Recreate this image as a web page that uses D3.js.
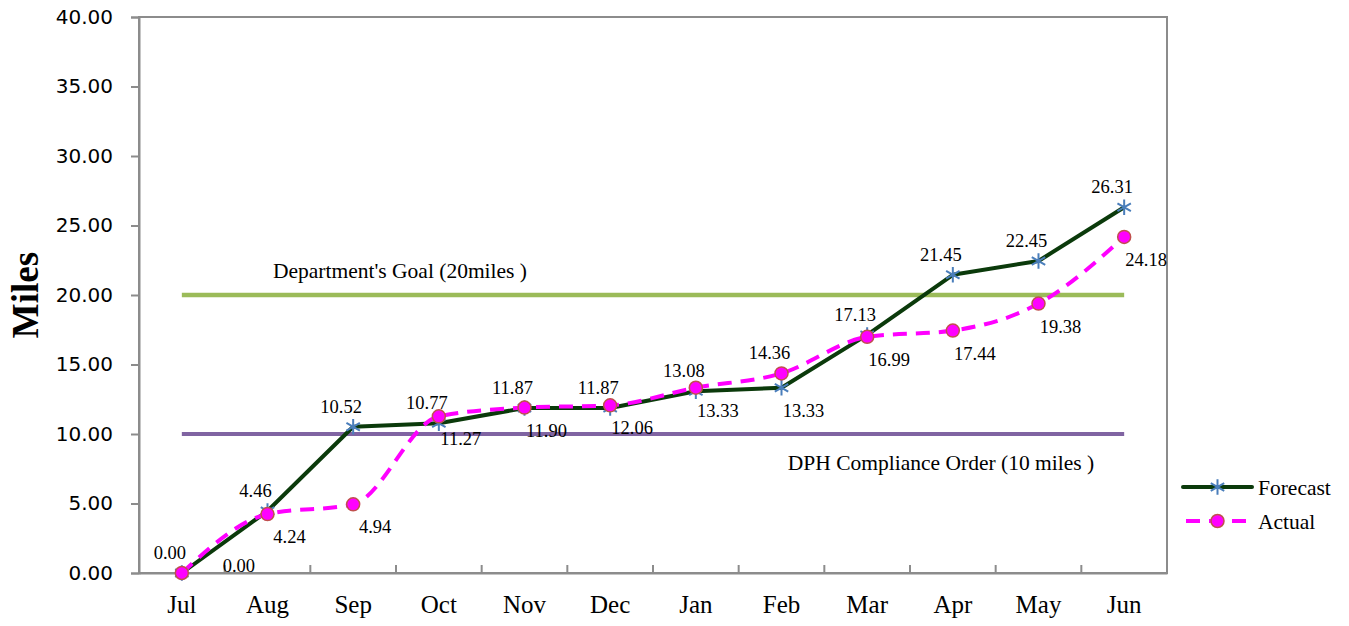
<!DOCTYPE html>
<html lang="en">
<head>
    <meta charset="UTF-8">
    <title>Miles forecast vs actual</title>
    <style>
        body { margin: 0; background: #fff; }
        svg { display: block; }
    </style>
</head>
<body>
    <script src="https://d3js.org/d3.v7.min.js"></script>
    <script>
        // Data
        const months = ["Jul", "Aug", "Sep", "Oct", "Nov", "Dec", "Jan", "Feb", "Mar", "Apr", "May", "Jun"];
        const forecast = [0.00, 4.46, 10.52, 10.77, 11.87, 11.87, 13.08, 13.33, 17.13, 21.45, 22.45, 26.31];
        const actual = [0.00, 4.24, 4.94, 11.27, 11.90, 12.06, 13.33, 14.36, 16.99, 17.44, 19.38, 24.18];
        const yTicks = [0, 5, 10, 15, 20, 25, 30, 35, 40];
        const goalValue = 20,
            goalLabel = "Department's Goal (20miles )";
        const orderValue = 10,
            orderLabel = "DPH Compliance Order (10 miles )";

        const width = 1349,
            height = 626,
            margin = {top: 17, right: 182, bottom: 53, left: 139},
            serif = "'Liberation Serif', 'Times New Roman', serif",
            sans = "'DejaVu Sans', Verdana, sans-serif",
            axisGray = "#8c8c8c",
            forecastColor = "#0b3a0b",
            starColor = "#4a7ebb",
            actualColor = "#ff00ff",
            dotStroke = "#c0504d";

        const svg = d3.select("body").append("svg")
            .attr("width", width)
            .attr("height", height);

        const x = d3.scaleBand()
            .domain(months)
            .range([margin.left, width - margin.right]);
        const y = d3.scaleLinear()
            .domain([0, 40])
            .range([height - margin.bottom, margin.top]);
        const cx = m => x(m) + x.bandwidth() / 2;

        // Frame around the plot
        svg.append("rect")
            .attr("x", margin.left)
            .attr("y", margin.top)
            .attr("width", width - margin.right - margin.left)
            .attr("height", height - margin.bottom - margin.top)
            .attr("fill", "none")
            .attr("stroke", axisGray)
            .attr("stroke-width", 2);

        // Y axis
        const yAxis = svg.append("g")
            .attr("transform", `translate(${margin.left},0)`)
            .call(d3.axisLeft(y).tickValues(yTicks).tickSize(8).tickPadding(18)
                .tickFormat(d3.format(".2f")));
        yAxis.select(".domain").attr("stroke", axisGray).attr("stroke-width", 2);
        yAxis.selectAll(".tick line").attr("stroke", axisGray).attr("stroke-width", 2);
        yAxis.selectAll("text")
            .style("font-family", sans)
            .style("font-size", "20px")
            .attr("fill", "#000");

        // X axis: ticks sit between categories and point inward
        const xAxis = svg.append("g")
            .attr("transform", `translate(0,${height - margin.bottom})`)
            .call(d3.axisBottom(x).tickSize(0).tickPadding(22));
        xAxis.select(".domain").attr("stroke", axisGray).attr("stroke-width", 2);
        xAxis.selectAll("text")
            .style("font-family", serif)
            .style("font-size", "25px")
            .attr("fill", "#000");
        xAxis.selectAll(".bound")
            .data(months.slice(1))
            .enter().append("line")
            .attr("x1", d => x(d))
            .attr("x2", d => x(d))
            .attr("y1", 0)
            .attr("y2", -8)
            .attr("stroke", axisGray)
            .attr("stroke-width", 2);

        // Axis title
        svg.append("text")
            .attr("transform", `translate(38,${(margin.top + height - margin.bottom) / 2}) rotate(-90)`)
            .attr("text-anchor", "middle")
            .style("font-family", serif)
            .style("font-size", "37px")
            .style("font-weight", "bold")
            .text("Miles");

        // Reference lines
        const first = cx(months[0]), last = cx(months[months.length - 1]);
        svg.append("line")
            .attr("x1", first).attr("x2", last)
            .attr("y1", y(goalValue)).attr("y2", y(goalValue))
            .attr("stroke", "#9bbb59").attr("stroke-width", 4.5);
        svg.append("line")
            .attr("x1", first).attr("x2", last)
            .attr("y1", y(orderValue)).attr("y2", y(orderValue))
            .attr("stroke", "#8064a2").attr("stroke-width", 4);
        svg.append("text")
            .attr("x", 400)
            .attr("y", y(goalValue) - 17)
            .attr("text-anchor", "middle")
            .style("font-family", serif)
            .style("font-size", "21.5px")
            .text(goalLabel);
        svg.append("text")
            .attr("x", 941)
            .attr("y", y(orderValue) + 36)
            .attr("text-anchor", "middle")
            .style("font-family", serif)
            .style("font-size", "21.5px")
            .text(orderLabel);

        // Series lines
        const forecastLine = d3.line()
            .x((d, i) => cx(months[i]))
            .y(d => y(d));
        const actualLine = d3.line()
            .x((d, i) => cx(months[i]))
            .y(d => y(d))
            .curve(d3.curveMonotoneX);

        svg.append("path")
            .datum(forecast)
            .attr("d", forecastLine)
            .attr("fill", "none")
            .attr("stroke", forecastColor)
            .attr("stroke-width", 4)
            .attr("stroke-linejoin", "round");

        const star = d3.symbol().type(d3.symbolAsterisk).size(170);
        function drawStar(g, px, py) {
            g.append("path")
                .attr("d", star())
                .attr("transform", `translate(${px},${py})`)
                .attr("fill", "none")
                .attr("stroke", starColor)
                .attr("stroke-width", 2);
        }
        function drawDot(g, px, py) {
            g.append("circle")
                .attr("cx", px).attr("cy", py).attr("r", 6.5)
                .attr("fill", actualColor)
                .attr("stroke", dotStroke)
                .attr("stroke-width", 1.5);
        }

        const starG = svg.append("g");
        forecast.forEach((d, i) => drawStar(starG, cx(months[i]), y(d)));

        svg.append("path")
            .datum(actual)
            .attr("d", actualLine)
            .attr("fill", "none")
            .attr("stroke", actualColor)
            .attr("stroke-width", 4)
            .attr("stroke-dasharray", "14,9");

        const dotG = svg.append("g");
        actual.forEach((d, i) => drawDot(dotG, cx(months[i]), y(d)));

        // Value labels: forecast above-left, actual below-right,
        // swapped when actual clearly sits above forecast
        const labelG = svg.append("g")
            .style("font-family", serif)
            .style("font-size", "18.5px")
            .attr("text-anchor", "middle");
        months.forEach((m, i) => {
            const swap = actual[i] - forecast[i] > 1;
            const up = {dx: -12, dy: -14}, down = {dx: 22, dy: 29};
            const fo = swap ? down : up;
            // a zero actual would fall under the axis, so it sits to the right
            const ao = swap ? up : (actual[i] === 0 ? {dx: 57, dy: -1} : down);
            labelG.append("text")
                .attr("x", cx(m) + fo.dx)
                .attr("y", y(forecast[i]) + fo.dy)
                .text(forecast[i].toFixed(2));
            labelG.append("text")
                .attr("x", cx(m) + ao.dx)
                .attr("y", y(actual[i]) + ao.dy)
                .text(actual[i].toFixed(2));
        });

        // Legend
        const legend = svg.append("g")
            .style("font-family", serif)
            .style("font-size", "21.5px");
        const lx0 = 1183, lx1 = 1252;
        legend.append("line")
            .attr("x1", lx0).attr("x2", lx1).attr("y1", 487).attr("y2", 487)
            .attr("stroke", forecastColor).attr("stroke-width", 4)
            .attr("stroke-linecap", "round");
        drawStar(legend, (lx0 + lx1) / 2, 487);
        legend.append("text").attr("x", 1258).attr("y", 495).text("Forecast");
        legend.append("line")
            .attr("x1", lx0).attr("x2", lx1).attr("y1", 521).attr("y2", 521)
            .attr("stroke", actualColor).attr("stroke-width", 4)
            .attr("stroke-dasharray", "14,9")
            .attr("stroke-dashoffset", -3);
        drawDot(legend, (lx0 + lx1) / 2, 521);
        legend.append("text").attr("x", 1258).attr("y", 529).text("Actual");
    </script>
</body>
</html>
